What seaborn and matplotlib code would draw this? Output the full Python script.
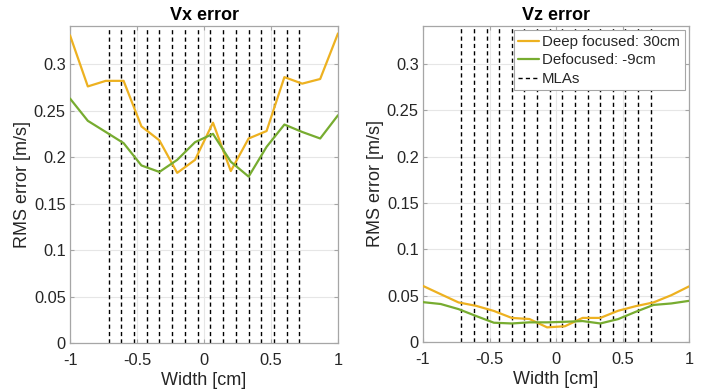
import numpy as np
import pandas as pd
import matplotlib
matplotlib.use("Agg")
import matplotlib.pyplot as plt
import seaborn as sns
from matplotlib.lines import Line2D

# ---- data ----
width_cm = [-1.0, -0.867, -0.733, -0.6, -0.467, -0.333, -0.2, -0.067,
            0.067, 0.2, 0.333, 0.467, 0.6, 0.733, 0.867, 1.0]
vx_deep = [0.331, 0.276, 0.282, 0.282, 0.233, 0.218, 0.183, 0.197,
           0.237, 0.185, 0.220, 0.228, 0.286, 0.279, 0.284, 0.333]
vx_defoc = [0.263, 0.239, 0.227, 0.215, 0.191, 0.184, 0.197, 0.216,
            0.225, 0.195, 0.179, 0.211, 0.235, 0.227, 0.220, 0.245]
vz_deep = [0.0605, 0.0516, 0.0427, 0.039, 0.0335, 0.026, 0.0248, 0.0158,
           0.0170, 0.026, 0.026, 0.0337, 0.0387, 0.0427, 0.0505, 0.060]
vz_defoc = [0.043, 0.041, 0.0355, 0.028, 0.0208, 0.020, 0.0212, 0.0212,
            0.0218, 0.0226, 0.020, 0.0247, 0.0326, 0.040, 0.0416, 0.0444]
mla_pos = [-0.7125, -0.6175, -0.5225, -0.4275, -0.3325, -0.2375, -0.1425, -0.0475,
           0.0475, 0.1425, 0.2375, 0.3325, 0.4275, 0.5225, 0.6175, 0.7125]
series_names = ["Deep focused: 30cm", "Defocused: -9cm"]
titles = ["Vx error", "Vz error"]
x_ticks = [-1, -0.5, 0, 0.5, 1]
x_tick_labels = ["-1", "-0.5", "0", "0.5", "1"]
y_ticks = [0, 0.05, 0.1, 0.15, 0.2, 0.25, 0.3]
y_tick_labels = ["0", "0.05", "0.1", "0.15", "0.2", "0.25", "0.3"]

ORANGE = "#EDB120"
GREEN = "#77AC30"
MLA_DASH = (0, (3.0, 2.3))

sns.set_theme(style="whitegrid")
plt.rcParams["font.family"] = ["Liberation Sans", "DejaVu Sans"]

fig = plt.figure(figsize=(7.06, 3.91), dpi=100)
W, H = 706, 391
ax1 = fig.add_axes([70 / W, 1 - 343 / H, 268 / W, 317 / H])
ax2 = fig.add_axes([423 / W, 1 - 342 / H, 266 / W, 316 / H])

datasets = [(vx_deep, vx_defoc), (vz_deep, vz_defoc)]
for ax, (deep, defoc), title in zip([ax1, ax2], datasets, titles):
    df = pd.DataFrame({
        "Width": width_cm * 2,
        "RMS": list(deep) + list(defoc),
        "series": [series_names[0]] * len(width_cm) + [series_names[1]] * len(width_cm),
    })
    for xm in mla_pos:
        ax.axvline(xm, color="black", lw=1.0, ls=MLA_DASH, zorder=1.5)
    sns.lineplot(data=df, x="Width", y="RMS", hue="series",
                 palette=[ORANGE, GREEN], lw=1.6, ax=ax, legend=False, zorder=3)
    ax.set_xlim(-1, 1)
    ax.set_ylim(0, 0.341)
    ax.set_xticks(x_ticks)
    ax.set_xticklabels(x_tick_labels)
    ax.set_yticks(y_ticks)
    ax.set_yticklabels(y_tick_labels)
    ax.set_xlabel("Width [cm]", fontsize=13, color="#262626", labelpad=3)
    ax.set_ylabel("RMS error [m/s]", fontsize=13, color="#262626", labelpad=2)
    ax.set_title(title, fontsize=13, fontweight="bold", color="black", pad=4)
    ax.grid(True, color="#e6e6e6", lw=0.8)
    ax.set_facecolor("white")
    for sp in ax.spines.values():
        sp.set_color("#a6a6a6")
        sp.set_linewidth(0.9)
    ax.tick_params(direction="in", length=3, width=0.8, colors="#a6a6a6",
                   labelcolor="#262626", labelsize=11.8, top=True, right=True,
                   bottom=True, left=True)
    ax.tick_params(axis="x", pad=7)
    ax.tick_params(axis="y", pad=3)

handles = [Line2D([], [], color=ORANGE, lw=1.6),
           Line2D([], [], color=GREEN, lw=1.6),
           Line2D([], [], color="black", lw=1.0, ls=MLA_DASH)]
leg = ax2.legend(handles, series_names + ["MLAs"], loc="upper right",
                 fontsize=10.8, frameon=True, fancybox=False, framealpha=1,
                 edgecolor="#a6a6a6", handlelength=1.4, handletextpad=0.2,
                 borderpad=0.3, labelspacing=0.3, borderaxespad=0.3)
leg.get_frame().set_linewidth(0.8)

fig.savefig("out.png", dpi=100)
